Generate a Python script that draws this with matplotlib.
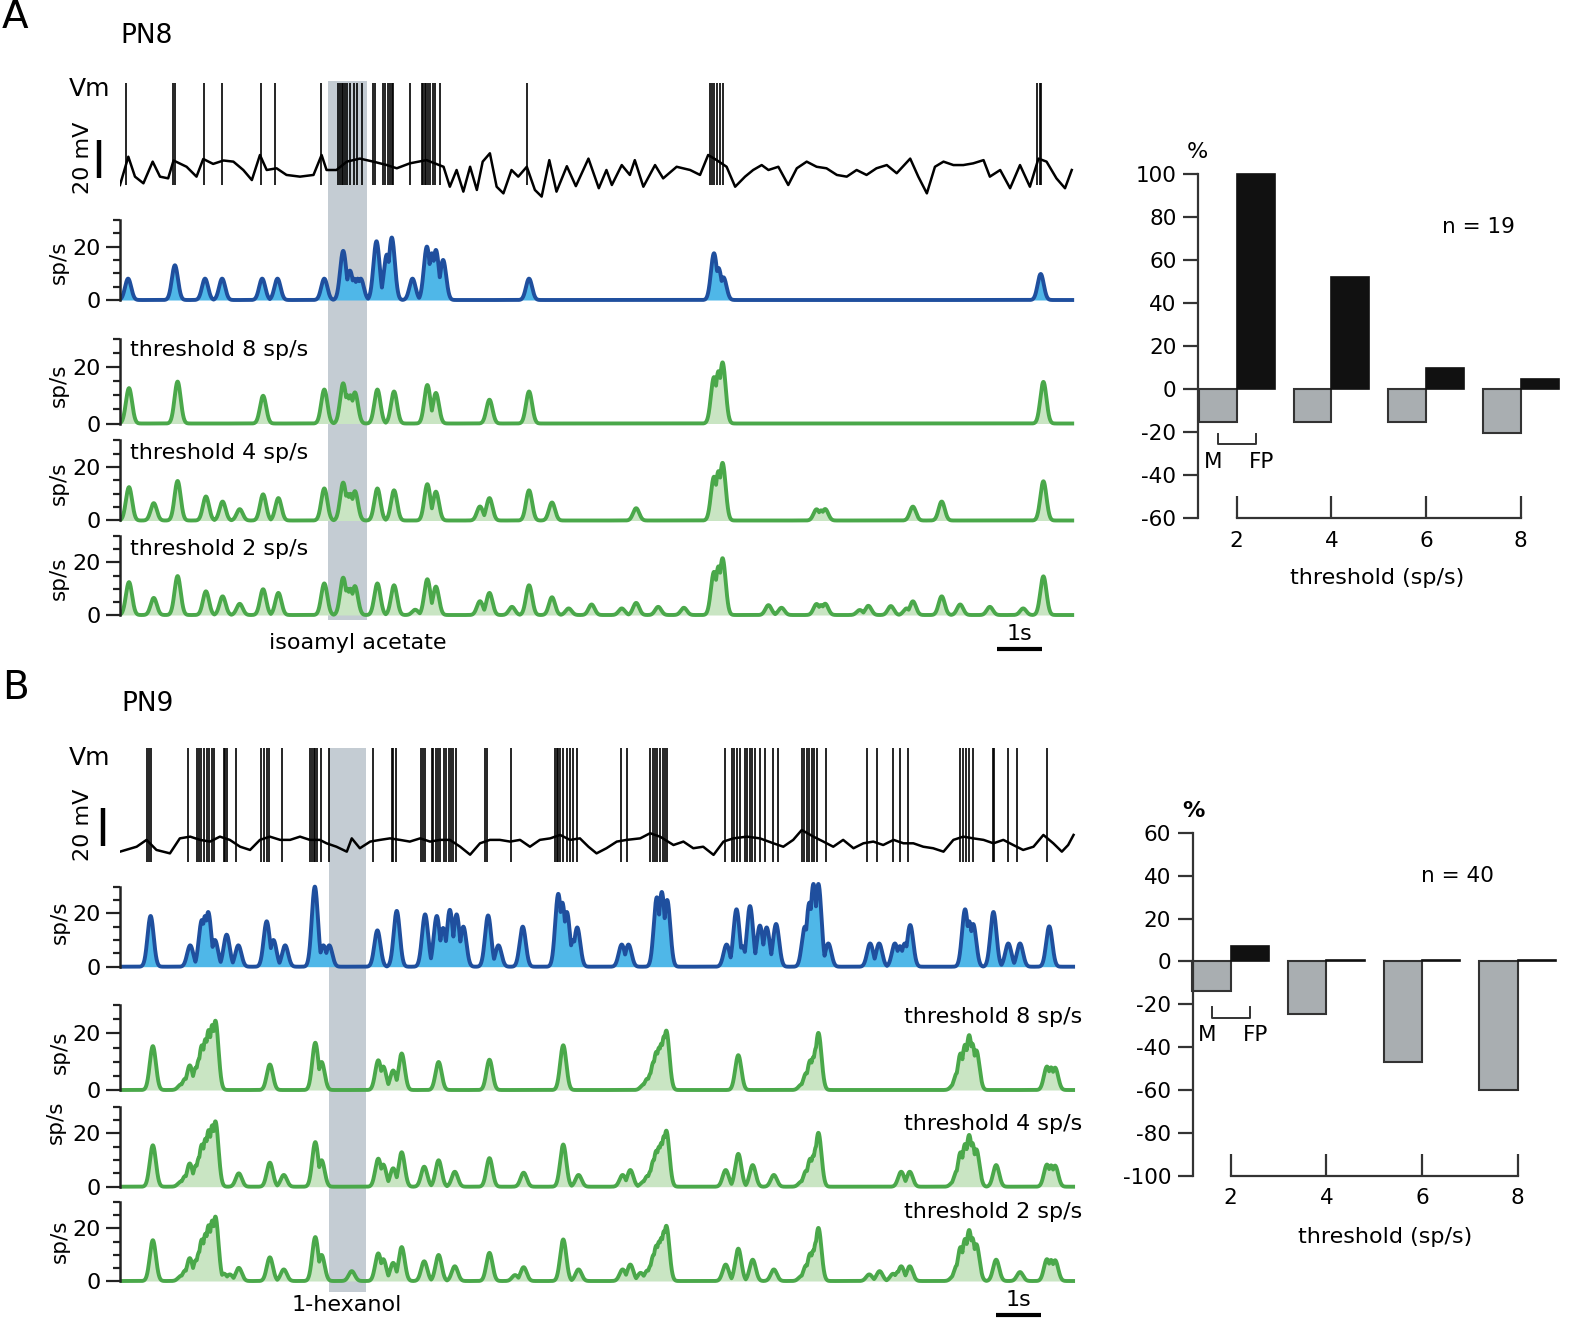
"""
PN8 / PN9 recordings: Vm, firing rate and thresholded rates, plus
miss / false-positive bar charts vs threshold.  Writes out.png.
"""

import numpy as np
import matplotlib
matplotlib.use("Agg")
import matplotlib.pyplot as plt
from matplotlib.ticker import FixedLocator

W, H = 1569, 1322
PX_PER_S = 45.0            # 1 s scale bar
X0, X1 = 120, 1080         # px of the trace axes (t = 0 at X0)
PX_PER_MV = 1.9

BLUE_LINE = "#1f4f9e"
BLUE_FILL = "#4fb7e8"
GREEN_LINE = "#4aa84a"
GREEN_FILL = "#c9e5c3"
STIM_GRAY = "#c4ccd3"
BAR_GRAY = "#a9aeb1"
BAR_BLACK = "#111111"

# ---------------- panel A (PN8, isoamyl acetate) ----------------
T_END_A = 21.16
STIM_A = (4.62, 5.49)

VM_A_T = [0, .185, .333, .52, .726, .889, 1.07, 1.19, 1.48, 1.70, 1.85, 2.07,
          2.30, 2.52, 2.74, 2.93, 3.11, 3.26, 3.48, 3.70, 4.0, 4.30, 4.48,
          4.59, 4.81, 5.04, 5.33, 5.63, 5.93, 6.15, 6.44, 6.81, 7.19, 7.33,
          7.48, 7.63, 7.78, 7.93, 8.06, 8.22, 8.37, 8.52, 8.70, 8.85, 9.04,
          9.22, 9.37, 9.54, 9.70, 9.93, 10.13, 10.41, 10.64, 10.81, 10.93,
          11.15, 11.33, 11.44, 11.63, 11.89, 12.07, 12.37, 12.67, 12.89,
          13.07, 13.26, 13.48, 13.67, 13.89, 14.07, 14.26, 14.41, 14.63,
          14.85, 15.04, 15.26, 15.48, 15.70, 15.93, 16.15, 16.37, 16.59,
          16.81, 17.04, 17.26, 17.56, 17.74, 17.93, 18.11, 18.30, 18.52,
          18.74, 18.96, 19.19, 19.33, 19.56, 19.78, 20.0, 20.22, 20.41,
          20.59, 20.81, 21.0, 21.15]
VM_A_MV = [-7.9, 7, -3.5, -7, 4.4, -3.5, -4.4, 5, 1.7, -3.5, 5.8, 3.2,
           5, 4.4, 0, -5.3, 7.9, 0, 0.9, -2.6, -3.5, -2.6, 7.9,
           0, 0, 4.4, 6, 4.4, 2.6, 0.9, 3.5, 5.2, 1.7, -8.8,
           0, -11.4, 1.7, -10.5, 4.4, 8.8, -8.8, -12.3, 0, -3.5, 1.7,
           -10.5, -14, 5.2, -11.4, 2, -8.5, 6, -9.6, 0, -7.9,
           2.6, -2.6, 5.2, -8.8, 2.6, -4.4, 1.7, 0, -2.6,
           7.9, 5.2, 1.7, -8.8, -3.5, 0, 2.6, 0, 1.7,
           -7.9, 0.9, 4.4, 1.7, 0.9, -2.6, -3.5, 0, -2.6,
           0.9, 2.6, -1.7, 6, -3.5, -12.3, 1.7, 4.4, 2.6,
           2.6, 3.5, 5.2, -3.5, 0, -9.6, 2.6, -8.8, 6,
           4.4, -4.4, -9.6, 0]
SPIKES_A = [0.133, 1.185, 1.22, 1.867, 2.26, 3.13, 3.44, 4.47, 4.85, 4.89,
            4.93, 4.96, 5.0, 5.04, 5.10, 5.19, 5.26, 5.37, 5.63, 5.67, 5.84,
            5.89, 5.96, 6.0, 6.04, 6.07, 6.44, 6.70, 6.74, 6.78, 6.81, 6.85,
            6.89, 6.95, 7.0, 7.11, 9.04, 13.1, 13.16, 13.21, 13.27, 13.33,
            13.39, 20.38, 20.44, 20.47]

# rate peaks: (time s, sp/s)
RATE_A = [(0.18, 8), (1.22, 13), (1.89, 8), (2.27, 8), (3.16, 8), (3.50, 8),
          (4.54, 8), (4.96, 18.4), (5.11, 11), (5.2, 8), (5.28, 8), (5.35, 8),
          (5.70, 22), (5.93, 17), (6.04, 23.4), (6.50, 8), (6.82, 20),
          (6.93, 17.5), (7.02, 18.75), (7.18, 15), (9.09, 8), (13.2, 17.5),
          (13.3, 12), (13.41, 8.5), (20.46, 9.75)]
GREEN_A8 = [(0.20, 12.5), (1.28, 14.8), (3.18, 9.8), (4.54, 12), (4.96, 14.2),
            (5.05, 10), (5.12, 10), (5.22, 11), (5.72, 12), (6.09, 11.3),
            (6.83, 13.6), (7.02, 10.8), (8.21, 8.4), (9.09, 11.3),
            (13.2, 16.4), (13.3, 18.5), (13.39, 21.6), (20.52, 14.7)]
GREEN_A4_EXTRA = [(0.75, 6.5), (1.91, 9), (2.28, 7.1), (2.66, 4.25),
                  (3.52, 8.4), (8.0, 5.25), (9.6, 6.75), (11.47, 4.6),
                  (15.48, 4.2), (15.58, 3.8), (15.67, 4.3), (17.62, 5.2),
                  (18.26, 7.1)]
GREEN_A2_EXTRA = [(6.56, 2), (8.71, 3.1), (9.97, 2.5), (10.48, 4),
                  (11.15, 2.5), (11.96, 3.1), (12.53, 2.75), (14.41, 3.75),
                  (14.70, 2.75), (16.44, 1.9), (16.63, 3.5), (17.13, 3.4),
                  (17.48, 2.5), (18.67, 4), (19.33, 3.1), (20.07, 2.5)]

# ---------------- panel B (PN9, 1-hexanol) ----------------
T_END_B = 21.18
STIM_B = (4.65, 5.47)

VM_B_T = [0, .37, .59, .81, 1.11, 1.33, 1.56, 1.78, 2.0, 2.22, 2.44, 2.67,
          2.89, 3.11, 3.33, 3.56, 3.78, 4.0, 4.22, 4.44, 4.59, 4.81, 5.04,
          5.15, 5.33, 5.56, 5.78, 6.0, 6.22, 6.44, 6.67, 6.89, 7.11, 7.33,
          7.56, 7.78, 8.0, 8.22, 8.44, 8.67, 8.89, 9.11, 9.33, 9.56, 9.78,
          10.0, 10.22, 10.41, 10.59, 10.81, 11.04, 11.26, 11.56, 11.78, 12.0,
          12.30, 12.52, 12.74, 12.96, 13.19, 13.41, 13.63, 13.93, 14.22,
          14.52, 14.74, 14.96, 15.15, 15.41, 15.63, 15.85, 16.07, 16.30,
          16.52, 16.74, 16.96, 17.19, 17.41, 17.63, 17.85, 18.07, 18.30,
          18.52, 18.74, 18.96, 19.19, 19.41, 19.63, 19.85, 20.07, 20.30,
          20.52, 20.74, 20.93, 21.07, 21.19]
VM_B_MV = [-4.4, -1.8, 1.8, -3.5, -5.3, 2.6, 3.5, 1.8, 0.9, 3.5, 1.8, -1.8,
           -3.5, 1.8, 3.5, 1.8, 1.8, 3.5, 1.8, 1.8, 0, -1.8, -4.4,
           2.6, -2.6, 0.9, 1.8, 2.6, 1.8, 0.9, 2.6, 0.9, 1.8, 1.8,
           -1.8, -6, 0, 1.8, 1.8, 0.9, 1.8, -1.8, 1.8, 2.6, 4.4,
           1.8, 2.6, -1.8, -5.3, -2.6, 0.9, 1.8, 2.6, 5.3, 3.5,
           -0.9, 0.9, -2.6, -1.8, -6.1, 0.9, 2.6, 3.5, 2.6,
           0, -1.8, 1.8, 7, 3.5, 0.9, -1.8, 1.8, -2.6,
           0, 0.9, -0.9, 1.8, 0, 0, -1.8, -2.6, -4.4,
           1.8, 3.5, 2.6, 1.8, 0, 1.8, -0.9, -3.5, -1.8,
           4.4, 0, -4.4, -0.9, 4.4]
SPIKES_B = [0.61, 0.65, 0.68, 1.52, 1.70, 1.76, 1.81, 1.87, 1.93, 1.98, 2.04,
            2.09, 2.30, 2.33, 2.37, 2.58, 3.13, 3.20, 3.26, 3.32, 3.59, 4.22,
            4.26, 4.30, 4.33, 4.37, 4.46, 4.65, 5.63, 6.04, 6.07, 6.13, 6.69,
            6.74, 6.78, 6.93, 6.96, 7.02, 7.07, 7.11, 7.19, 7.24, 7.30, 7.35,
            7.41, 7.47, 8.11, 8.16, 8.70, 9.67, 9.70, 9.74, 9.78, 9.85, 9.93,
            10.0, 10.07, 10.15, 11.13, 11.27, 11.78, 11.84, 11.89, 11.94,
            12.0, 12.06, 12.11, 12.16, 13.44, 13.59, 13.64, 13.70, 13.78,
            13.89, 13.93, 13.99, 14.04, 14.11, 14.22, 14.33, 14.52, 14.63,
            15.15, 15.20, 15.26, 15.32, 15.37, 15.42, 15.48, 15.69, 16.61,
            16.83, 17.17, 17.33, 17.52, 18.67, 18.74, 18.80, 18.87, 18.96,
            19.39, 19.42, 19.74, 19.94, 20.61]

RATE_B = [(0.68, 19), (1.56, 8), (1.82, 17.5), (1.89, 19), (1.96, 20.5),
          (2.11, 10), (2.37, 12), (2.63, 8), (3.26, 17), (3.41, 10),
          (3.67, 8), (4.33, 30), (4.52, 8), (4.65, 8), (5.72, 13.6),
          (6.15, 20.9), (6.78, 19.6), (7.04, 19), (7.18, 14.5), (7.33, 21.3),
          (7.48, 19.6), (7.63, 15), (8.18, 19.2), (8.41, 8), (8.95, 15),
          (9.74, 27.3), (9.83, 24), (9.93, 20.5), (10.07, 10), (10.16, 14.7),
          (11.15, 8.3), (11.30, 8.3), (11.93, 26), (12.04, 28), (12.16, 25),
          (13.48, 8.3), (13.70, 21.5), (13.83, 7.7), (14.0, 22.7),
          (14.22, 15.4), (14.37, 14.7), (14.58, 16), (15.22, 15),
          (15.32, 24), (15.41, 31), (15.52, 31), (15.74, 8.7), (16.67, 8.7),
          (16.87, 8.7), (17.22, 8.7), (17.33, 7.7), (17.44, 8.7),
          (17.56, 15.6), (18.78, 21.5), (18.87, 17), (18.96, 16),
          (19.41, 20.5), (19.74, 8.7), (20.0, 8.7), (20.65, 15.1)]
GREEN_B8 = [(0.73, 15.5), (1.36, 2), (1.45, 4), (1.55, 8.7), (1.69, 8),
            (1.76, 11), (1.82, 15.8), (1.90, 18), (1.97, 21.2), (2.05, 23),
            (2.12, 24.5), (3.33, 9), (4.34, 16.7), (4.48, 9.9), (5.74, 10.5),
            (5.85, 8.3), (6.07, 6.9), (6.26, 12.9), (7.08, 9.9), (8.21, 10.7),
            (9.85, 15.8), (11.64, 2), (11.72, 4), (11.8, 6), (11.86, 10),
            (11.92, 13.5), (11.98, 15), (12.03, 16.4), (12.09, 19),
            (12.14, 21), (13.74, 12.3), (15.15, 2), (15.25, 6), (15.34, 10.5),
            (15.41, 11.7), (15.47, 15), (15.52, 20.2), (18.53, 2), (18.6, 6),
            (18.68, 12.9), (18.78, 16), (18.87, 19.4), (18.94, 16.4),
            (19.03, 14), (20.6, 8.3), (20.69, 8), (20.78, 7.9)]
GREEN_B4_EXTRA = [(2.64, 5), (3.64, 4.4), (6.76, 7.5), (7.44, 5.6),
                  (8.97, 5.25), (10.19, 4.4), (11.17, 4.4), (11.34, 6.25),
                  (13.46, 6.25), (14.06, 8.1), (14.53, 4.4), (17.36, 5.6),
                  (17.55, 5.6), (19.47, 8.1)]
GREEN_B2_EXTRA = [(2.31, 2.8), (2.44, 2.5), (5.15, 3.75), (8.78, 2.25),
                  (11.57, 3.1), (16.65, 2.5), (16.88, 3.75), (17.18, 2.75),
                  (17.29, 3.5), (20.0, 3.4)]

# ---------------- bar charts ----------------
THRESHOLDS = [2, 4, 6, 8]
MISS_A = [-15, -15, -15, -20.5]
FP_A = [100, 52, 10, 5]
MISS_B = [-14, -24.5, -47, -60]
FP_B = [7, 0.8, 0.8, 0.8]

SIGMA = 0.068   # kernel width (s) of the rate bumps

plt.rcParams.update({"font.family": "DejaVu Sans", "font.size": 16,
                     "axes.unicode_minus": False})

fig = plt.figure(figsize=(W / 100, H / 100), dpi=100)


def rect(x0, y0, x1, y1):
    return [x0 / W, 1 - y1 / H, (x1 - x0) / W, (y1 - y0) / H]


def ftext(x, y, s, **kw):
    kw.setdefault("ha", "center")
    kw.setdefault("va", "center")
    fig.text(x / W, 1 - y / H, s, **kw)


def rate_curve(t, events):
    ev = np.asarray(events, dtype=float)
    bumps = ev[:, 1, None] * np.exp(-0.5 * ((t[None, :] - ev[:, 0, None]) / SIGMA) ** 2)
    return bumps.max(axis=0)


T_LIM = (0, (X1 - X0) / PX_PER_S)


def stim_band(y_top, y_bot, stim):
    bg = fig.add_axes(rect(X0, y_top, X1, y_bot))
    bg.set_xlim(*T_LIM)
    bg.set_ylim(y_bot, y_top)          # layout axes in px
    bg.axis("off")
    bg.axvspan(stim[0], stim[1], color=STIM_GRAY, lw=0)
    return bg


def vm_axes(ref_px, top_px, bot_px, tt, mv, spikes, lo, hi, bar_px, bar_lo):
    ax = fig.add_axes(rect(X0, top_px, X1, bot_px))
    ax.set_xlim(*T_LIM)
    ax.set_ylim((ref_px - bot_px) / PX_PER_MV, (ref_px - top_px) / PX_PER_MV)
    ax.axis("off")
    ax.plot(tt, mv, color="black", lw=1.8, solid_joinstyle="round")
    ax.vlines(spikes, lo, hi, color="black", lw=1.2)
    xb = (bar_px - X0) / PX_PER_S
    ax.plot([xb, xb], [bar_lo, bar_lo + 20], color="black", lw=3.2,
            solid_capstyle="butt", clip_on=False)
    return ax


def rate_axes(base_px, ppu, t_end, events, line, fill):
    ax = fig.add_axes(rect(X0, base_px - 33 * ppu, X1, base_px + 10))
    ax.set_xlim(*T_LIM)
    ax.set_ylim(-10 / ppu, 33)
    ax.patch.set_alpha(0)
    t = np.linspace(0, t_end, 8000)
    r = rate_curve(t, events)
    ax.fill_between(t, 0, r, color=fill, lw=0)
    ax.plot(t, r, color=line, lw=2.8, solid_joinstyle="round")
    for s in ["top", "right", "bottom"]:
        ax.spines[s].set_visible(False)
    ax.spines["left"].set_bounds(0, 30)
    ax.spines["left"].set_linewidth(1.8)
    ax.spines["left"].set_color("#222222")
    ax.set_xticks([])
    ax.yaxis.set_major_locator(FixedLocator([0, 20]))
    ax.yaxis.set_minor_locator(FixedLocator([5, 10, 15, 25, 30]))
    ax.tick_params(axis="y", which="major", length=10, width=1.6,
                   color="#222222", pad=4, labelsize=16)
    ax.tick_params(axis="y", which="minor", length=5, width=1.6,
                   color="#222222")
    return ax


def bar_axes(px_rect, xlim, ylim, miss, fp, yticks, brk_y, label_y):
    ax = fig.add_axes(rect(*px_rect))
    ax.set_xlim(*xlim)
    ax.set_ylim(*ylim)
    ax.patch.set_alpha(0)
    thr = np.array(THRESHOLDS, dtype=float)
    w = 0.8
    ax.bar(thr - w / 2, miss, w, color=BAR_GRAY, edgecolor="#333333",
           lw=1.5, clip_on=False)
    ax.bar(thr + w / 2, fp, w, color=BAR_BLACK, edgecolor=BAR_BLACK,
           lw=1.2, clip_on=False)
    ax.spines["top"].set_visible(False)
    ax.spines["right"].set_visible(False)
    for s in ["left", "bottom"]:
        ax.spines[s].set_linewidth(1.6)
        ax.spines[s].set_color("#333333")
    ax.spines["left"].set_bounds(*ylim)
    ax.spines["bottom"].set_bounds(2, 8)
    ax.set_yticks(yticks)
    ax.set_xticks(THRESHOLDS)
    ax.tick_params(axis="y", direction="out", length=11, width=1.6,
                   color="#333333", pad=4.5, labelsize=15.5)
    ax.tick_params(axis="x", direction="in", length=16, width=1.6,
                   color="#333333", pad=9, labelsize=15.5)
    # M / FP bracket
    ax.plot([1.6, 1.6, 2.4, 2.4], [brk_y + 5, brk_y, brk_y, brk_y + 5],
            color="#333333", lw=1.4, clip_on=False)
    ax.text(1.5, label_y, "M", ha="center", va="center", fontsize=15.5)
    ax.text(2.52, label_y, "FP", ha="center", va="center", fontsize=15.5)
    return ax


def panel_a():
    bg = stim_band(81, 620, STIM_A)
    t0 = (997 - X0) / PX_PER_S
    bg.plot([t0, t0 + 1], [649, 649], color="black", lw=3, clip_on=False,
            solid_capstyle="butt")
    vm_axes(170, 75, 205, VM_A_T, VM_A_MV, SPIKES_A, -8, 46, 99, -4.4)
    rate_axes(300, 2.67, T_END_A, RATE_A, BLUE_LINE, BLUE_FILL)
    rate_axes(423.5, 2.83, T_END_A, GREEN_A8, GREEN_LINE, GREEN_FILL)
    rate_axes(520.5, 2.67, T_END_A, GREEN_A8 + GREEN_A4_EXTRA,
              GREEN_LINE, GREEN_FILL)
    rate_axes(615, 2.63, T_END_A, GREEN_A8 + GREEN_A4_EXTRA + GREEN_A2_EXTRA,
              GREEN_LINE, GREEN_FILL)

    ftext(15, 17, "A", fontsize=28)
    ftext(147, 36, "PN8", fontsize=19)
    ftext(90, 89, "Vm", fontsize=18)
    ftext(83, 158, "20 mV", fontsize=16, rotation=90)
    for y in (262, 385, 483, 578):
        ftext(59, y, "sp/s", fontsize=15.5, rotation=90)
    ftext(130, 350, "threshold 8 sp/s", ha="left")
    ftext(130, 453, "threshold 4 sp/s", ha="left")
    ftext(130, 549, "threshold 2 sp/s", ha="left")
    ftext(358, 643, "isoamyl acetate")
    ftext(1019, 634, "1s")

    bar_axes((1198, 174.3, 1562, 518.3), (1.1827, 8.870), (-60, 100),
             MISS_A, FP_A, range(-60, 101, 20), -25.6, -33.7)
    ftext(1197, 152, "%")
    ftext(1478, 227, "n = 19", fontsize=15.5)
    ftext(1377, 578, "threshold (sp/s)")


def panel_b():
    bg = stim_band(748, 1292, STIM_B)
    t0 = (996 - X0) / PX_PER_S
    bg.plot([t0, t0 + 1], [1315, 1315], color="black", lw=3, clip_on=False,
            solid_capstyle="butt")
    vm_axes(843.3, 742, 872, VM_B_T, VM_B_MV, SPIKES_B, -10, 50, 103, -1.4)
    rate_axes(966.7, 2.67, T_END_B, RATE_B, BLUE_LINE, BLUE_FILL)
    rate_axes(1090, 2.83, T_END_B, GREEN_B8, GREEN_LINE, GREEN_FILL)
    rate_axes(1186.7, 2.67, T_END_B, GREEN_B8 + GREEN_B4_EXTRA,
              GREEN_LINE, GREEN_FILL)
    rate_axes(1281, 2.63, T_END_B, GREEN_B8 + GREEN_B4_EXTRA + GREEN_B2_EXTRA,
              GREEN_LINE, GREEN_FILL)

    ftext(15, 688, "B", fontsize=28)
    ftext(148, 704, "PN9", fontsize=19)
    ftext(90, 758, "Vm", fontsize=18)
    ftext(83, 825, "20 mV", fontsize=16, rotation=90)
    for x, y in ((60, 922), (60, 1052), (56, 1122), (60, 1241)):
        ftext(x, y, "sp/s", fontsize=15.5, rotation=90)
    ftext(1082, 1017, "threshold 8 sp/s", ha="right")
    ftext(1082, 1124, "threshold 4 sp/s", ha="right")
    ftext(1082, 1212, "threshold 2 sp/s", ha="right")
    ftext(347, 1305, "1-hexanol")
    ftext(1018, 1300, "1s")

    bar_axes((1192.7, 832.7, 1562, 1176), (1.2055, 8.927), (-100, 60),
             MISS_B, FP_B, range(-100, 61, 20), -26.2, -34.3)
    ftext(1193, 811, "%", fontweight="bold")
    ftext(1457, 876, "n = 40", fontsize=15.5)
    ftext(1385, 1237, "threshold (sp/s)")


panel_a()
panel_b()
fig.savefig("out.png", dpi=100)
